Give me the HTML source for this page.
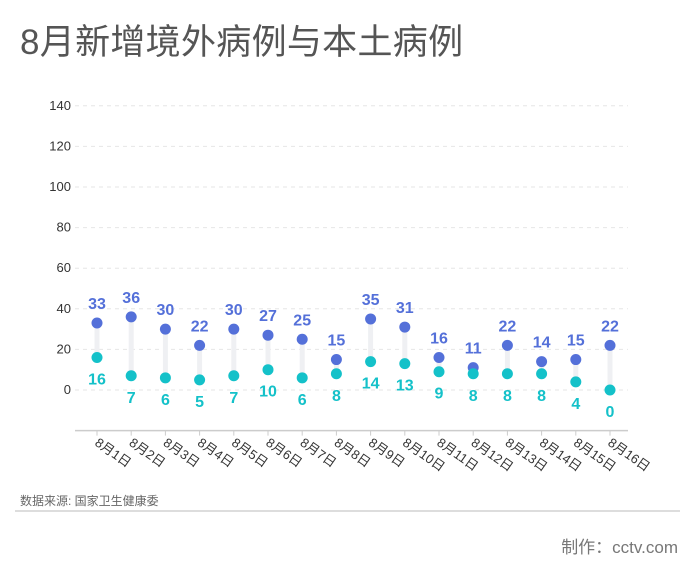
<!DOCTYPE html>
<html><head><meta charset="utf-8">
<style>
body{margin:0;width:700px;height:576px;background:#fff;overflow:hidden;font-family:"Liberation Sans","Noto Sans CJK SC",sans-serif;position:relative}
#title{position:absolute;left:20px;top:14px;font-size:35px;color:#555;letter-spacing:0.3px}
#src{position:absolute;left:20px;top:492px;font-size:12px;color:#666}
#sep{position:absolute;left:15px;top:510px;width:665px;height:2px;background:#ddd}
#foot{position:absolute;right:22px;top:533px;font-size:17px;color:#777}
svg{position:absolute;left:0;top:0}
</style></head><body>
<div id="title">8月新增境外病例与本土病例</div>
<svg id="chart" width="700" height="576"></svg>
<div id="src">数据来源: 国家卫生健康委</div>
<div id="sep"></div>
<div id="foot">制作：cctv.com</div>
<script>
const categories=["8月1日","8月2日","8月3日","8月4日","8月5日","8月6日","8月7日","8月8日","8月9日","8月10日","8月11日","8月12日","8月13日","8月14日","8月15日","8月16日"];
const imported=[33,36,30,22,30,27,25,15,35,31,16,11,22,14,15,22];
const local=[16,7,6,5,7,10,6,8,14,13,9,8,8,8,4,0];
const yTicks=[0,20,40,60,80,100,120,140];
const svg=document.getElementById('chart');
const NS='http://www.w3.org/2000/svg';
const y0=390,pxPer=2.03,x0=97,step=34.2;
const yS=v=>y0-v*pxPer;
const xS=i=>x0+i*step;
function mk(t,a){const e=document.createElementNS(NS,t);for(const k in a)e.setAttribute(k,a[k]);svg.appendChild(e);return e;}
yTicks.forEach(v=>{
  const g=mk('line',{x1:75,x2:628,y1:yS(v),y2:yS(v),stroke:'#e6e6e6','stroke-dasharray':'4,4'});
  
  
  const t=mk('text',{x:71,y:yS(v)+4,'text-anchor':'end','font-size':13,fill:'#333'});
  t.textContent=v;
  
  
});
const ax=mk('line',{x1:75,x2:628,y1:yS(-20),y2:yS(-20),stroke:'#ccc','stroke-width':1.5});


categories.forEach((c,i)=>{
  const x=xS(i);
  const tk=mk('line',{x1:x,x2:x,y1:yS(-20),y2:yS(-20)+5,stroke:'#ccc'});
  
  
  const lb=mk('text',{x:x-3,y:yS(-20)+14,'font-size':13,fill:'#333',transform:`rotate(35 ${x-3} ${yS(-20)+14})`});
  lb.textContent=c;
  
  
  const a=imported[i],b=local[i];
  const bar=mk('line',{x1:x,x2:x,y1:yS(a),y2:yS(b),stroke:'#eff0f3','stroke-width':5});
  
  
  const d1=mk('circle',{cx:x,cy:yS(a),r:5.5,fill:'#5470d9'});
  
  
  const d2=mk('circle',{cx:x,cy:yS(b),r:5.5,fill:'#14c1c9'});
  
  
  const t1=mk('text',{x:x,y:yS(a)-14,'text-anchor':'middle','font-size':16,'font-weight':'bold',fill:'#5470d9'});
  t1.textContent=a;
  
  
  const t2=mk('text',{x:x,y:yS(b)+27,'text-anchor':'middle','font-size':16,'font-weight':'bold',fill:'#14c1c9'});
  t2.textContent=b;
  
  
});
</script>
</body></html>
